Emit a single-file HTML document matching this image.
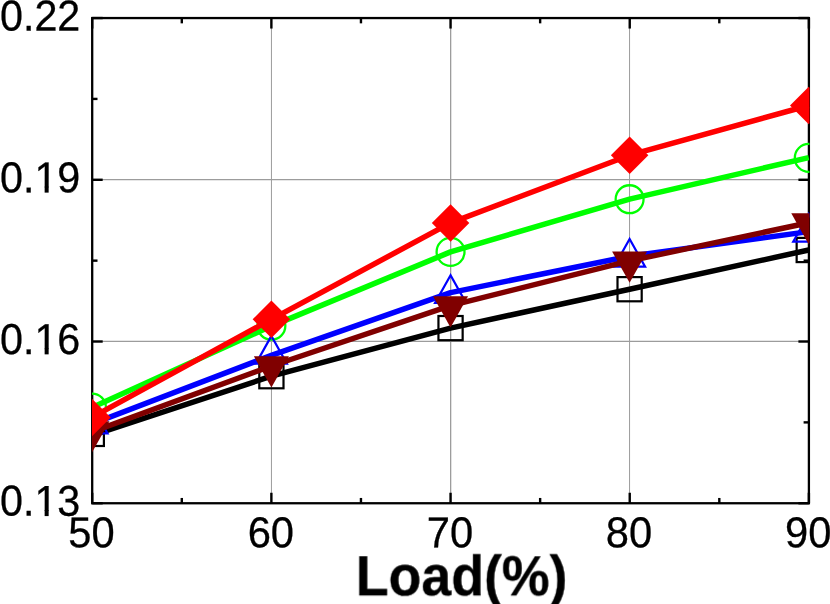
<!DOCTYPE html>
<html><head><meta charset="utf-8"><title>chart</title>
<style>
html,body{margin:0;padding:0;background:#fff;}
body{width:830px;height:604px;overflow:hidden;position:relative;font-family:"Liberation Sans",sans-serif;}
svg{position:absolute;left:0;top:0;display:block;}
text{font-family:"Liberation Sans",sans-serif;fill:#000;stroke:#000;stroke-width:0.3px;text-rendering:geometricPrecision;}
</style></head><body>
<svg width="830" height="604" viewBox="0 0 830 604">
<rect x="0" y="0" width="830" height="604" fill="#ffffff"/>
<defs><clipPath id="plotclip"><rect x="92.0" y="17" width="717.5" height="487"/></clipPath></defs>

<g stroke="#9c9c9c" fill="none">
<line x1="271.45" y1="18.05" x2="271.45" y2="503.25" stroke-width="1"/>
<line x1="450.65" y1="18.05" x2="450.65" y2="503.25" stroke-width="1.3"/>
<line x1="629.55" y1="18.05" x2="629.55" y2="503.25" stroke-width="1"/>
<line x1="92.2" y1="179.65" x2="808.9" y2="179.65" stroke-width="1.3"/>
<line x1="92.2" y1="341.35" x2="808.9" y2="341.35" stroke-width="1.3"/>
</g>
<g stroke="#000" stroke-width="2.4" fill="none">
<line x1="92.20" y1="503.25" x2="92.20" y2="492.75"/>
<line x1="92.20" y1="18.05" x2="92.20" y2="28.55"/>
<line x1="181.79" y1="503.25" x2="181.79" y2="497.95"/>
<line x1="181.79" y1="18.05" x2="181.79" y2="23.35"/>
<line x1="271.38" y1="503.25" x2="271.38" y2="492.75"/>
<line x1="271.38" y1="18.05" x2="271.38" y2="28.55"/>
<line x1="360.96" y1="503.25" x2="360.96" y2="497.95"/>
<line x1="360.96" y1="18.05" x2="360.96" y2="23.35"/>
<line x1="450.55" y1="503.25" x2="450.55" y2="492.75"/>
<line x1="450.55" y1="18.05" x2="450.55" y2="28.55"/>
<line x1="540.14" y1="503.25" x2="540.14" y2="497.95"/>
<line x1="540.14" y1="18.05" x2="540.14" y2="23.35"/>
<line x1="629.73" y1="503.25" x2="629.73" y2="492.75"/>
<line x1="629.73" y1="18.05" x2="629.73" y2="28.55"/>
<line x1="719.31" y1="503.25" x2="719.31" y2="497.95"/>
<line x1="719.31" y1="18.05" x2="719.31" y2="23.35"/>
<line x1="808.90" y1="503.25" x2="808.90" y2="492.75"/>
<line x1="808.90" y1="18.05" x2="808.90" y2="28.55"/>
<line x1="92.2" y1="18.05" x2="102.70" y2="18.05"/>
<line x1="808.9" y1="18.05" x2="798.40" y2="18.05"/>
<line x1="92.2" y1="98.92" x2="97.50" y2="98.92"/>
<line x1="808.9" y1="98.92" x2="803.60" y2="98.92"/>
<line x1="92.2" y1="179.78" x2="102.70" y2="179.78"/>
<line x1="808.9" y1="179.78" x2="798.40" y2="179.78"/>
<line x1="92.2" y1="260.65" x2="97.50" y2="260.65"/>
<line x1="808.9" y1="260.65" x2="803.60" y2="260.65"/>
<line x1="92.2" y1="341.52" x2="102.70" y2="341.52"/>
<line x1="808.9" y1="341.52" x2="798.40" y2="341.52"/>
<line x1="92.2" y1="422.38" x2="97.50" y2="422.38"/>
<line x1="808.9" y1="422.38" x2="803.60" y2="422.38"/>
<line x1="92.2" y1="503.25" x2="102.70" y2="503.25"/>
<line x1="808.9" y1="503.25" x2="798.40" y2="503.25"/>
</g>
<rect x="92.2" y="18.05" width="716.70" height="485.20" fill="none" stroke="#000" stroke-width="2.3"/>
<g clip-path="url(#plotclip)">
<polyline points="92.00,435.30 271.40,376.20 450.55,328.10 629.60,289.20 808.75,250.00" fill="none" stroke="#000000" stroke-width="5.5" stroke-linejoin="round" stroke-linecap="butt"/>
<rect x="79.70" y="421.80" width="24.20" height="24.20" fill="none" stroke="#000000" stroke-width="2.2"/>
<rect x="259.30" y="364.10" width="24.20" height="24.20" fill="none" stroke="#000000" stroke-width="2.2"/>
<rect x="438.45" y="316.00" width="24.20" height="24.20" fill="none" stroke="#000000" stroke-width="2.2"/>
<rect x="617.50" y="277.10" width="24.20" height="24.20" fill="none" stroke="#000000" stroke-width="2.2"/>
<rect x="796.65" y="237.90" width="24.20" height="24.20" fill="none" stroke="#000000" stroke-width="2.2"/>
<polyline points="92.00,407.50 271.40,326.10 450.55,251.90 629.60,199.10 808.75,157.60" fill="none" stroke="#00ff00" stroke-width="5.5" stroke-linejoin="round" stroke-linecap="butt"/>
<circle cx="92.00" cy="407.50" r="13.95" fill="none" stroke="#00ff00" stroke-width="2.3"/>
<circle cx="271.40" cy="325.70" r="13.95" fill="none" stroke="#00ff00" stroke-width="2.3"/>
<circle cx="450.55" cy="251.90" r="13.95" fill="none" stroke="#00ff00" stroke-width="2.3"/>
<circle cx="629.60" cy="199.20" r="13.95" fill="none" stroke="#00ff00" stroke-width="2.3"/>
<circle cx="808.75" cy="157.90" r="13.95" fill="none" stroke="#00ff00" stroke-width="2.3"/>
<polyline points="92.00,424.00 271.40,355.40 450.55,292.60 629.60,256.20 808.75,231.60" fill="none" stroke="#0000ff" stroke-width="5.5" stroke-linejoin="round" stroke-linecap="butt"/>
<path d="M92.00 405.60 L76.50 433.30 L107.50 433.30 Z" fill="none" stroke="#0000ff" stroke-width="2.2" stroke-miterlimit="10"/>
<path d="M271.40 335.90 L255.90 363.60 L286.90 363.60 Z" fill="none" stroke="#0000ff" stroke-width="2.2" stroke-miterlimit="10"/>
<path d="M450.55 275.30 L435.05 303.00 L466.05 303.00 Z" fill="none" stroke="#0000ff" stroke-width="2.2" stroke-miterlimit="10"/>
<path d="M629.60 239.00 L614.10 266.70 L645.10 266.70 Z" fill="none" stroke="#0000ff" stroke-width="2.2" stroke-miterlimit="10"/>
<path d="M808.75 214.00 L793.25 241.70 L824.25 241.70 Z" fill="none" stroke="#0000ff" stroke-width="2.2" stroke-miterlimit="10"/>
<polyline points="92.00,432.00 271.40,366.00 450.55,305.60 629.60,260.90 808.75,222.70" fill="none" stroke="#800000" stroke-width="5.5" stroke-linejoin="round" stroke-linecap="butt"/>
<path d="M74.50 421.20 L109.50 421.20 L92.00 452.50 Z" fill="#800000"/>
<path d="M253.90 356.20 L288.90 356.20 L271.40 387.50 Z" fill="#800000"/>
<path d="M433.05 296.20 L468.05 296.20 L450.55 327.50 Z" fill="#800000"/>
<path d="M612.10 251.50 L647.10 251.50 L629.60 282.80 Z" fill="#800000"/>
<path d="M791.25 213.30 L826.25 213.30 L808.75 244.60 Z" fill="#800000"/>
<polyline points="92.00,417.40 271.40,319.30 450.55,222.90 629.60,155.20 808.75,105.50" fill="none" stroke="#ff0000" stroke-width="5.5" stroke-linejoin="round" stroke-linecap="butt"/>
<path d="M92.00 398.65 L110.75 417.40 L92.00 436.15 L73.25 417.40 Z" fill="#ff0000"/>
<path d="M271.40 300.55 L290.15 319.30 L271.40 338.05 L252.65 319.30 Z" fill="#ff0000"/>
<path d="M450.55 204.15 L469.30 222.90 L450.55 241.65 L431.80 222.90 Z" fill="#ff0000"/>
<path d="M629.60 136.45 L648.35 155.20 L629.60 173.95 L610.85 155.20 Z" fill="#ff0000"/>
<path d="M808.75 86.75 L827.50 105.50 L808.75 124.25 L790.00 105.50 Z" fill="#ff0000"/>
</g>
<g style="filter:grayscale(1)">
<g transform="translate(80.3,30.45) rotate(0.03) scale(0.99,1.035)"><text x="0" y="0" font-size="41.7" text-anchor="end">0.22</text></g>
<g transform="translate(80.3,192.18) rotate(0.03) scale(0.99,1.035)"><text x="0" y="0" font-size="41.7" text-anchor="end">0.19</text></g>
<g transform="translate(80.3,353.92) rotate(0.03) scale(0.99,1.035)"><text x="0" y="0" font-size="41.7" text-anchor="end">0.16</text></g>
<g transform="translate(80.3,515.65) rotate(0.03) scale(0.99,1.035)"><text x="0" y="0" font-size="41.7" text-anchor="end">0.13</text></g>
<rect x="36" y="187.42" width="21.5" height="6.6" fill="#fff"/>
<rect x="44.64" y="186.62" width="4.01" height="6" fill="#000"/>
<rect x="36" y="349.16" width="21.5" height="6.6" fill="#fff"/>
<rect x="44.64" y="348.36" width="4.01" height="6" fill="#000"/>
<rect x="36" y="510.89" width="21.5" height="6.6" fill="#fff"/>
<rect x="44.64" y="510.09" width="4.01" height="6" fill="#000"/>
<g transform="translate(91.45,547.2) rotate(0.03) scale(1.0,1.035)"><text x="0" y="0" font-size="41.7" text-anchor="middle">50</text></g>
<g transform="translate(270.85,547.2) rotate(0.03) scale(1.0,1.035)"><text x="0" y="0" font-size="41.7" text-anchor="middle">60</text></g>
<g transform="translate(450.00,547.2) rotate(0.03) scale(1.0,1.035)"><text x="0" y="0" font-size="41.7" text-anchor="middle">70</text></g>
<g transform="translate(629.05,547.2) rotate(0.03) scale(1.0,1.035)"><text x="0" y="0" font-size="41.7" text-anchor="middle">80</text></g>
<g transform="translate(808.20,547.2) rotate(0.03) scale(1.0,1.035)"><text x="0" y="0" font-size="41.7" text-anchor="middle">90</text></g>
<g transform="translate(355.8,595.6) rotate(0.02) scale(0.994,1.048)"><text x="0" y="0" font-size="54" font-weight="bold">Load(%)</text></g>
</g>
</svg></body></html>
